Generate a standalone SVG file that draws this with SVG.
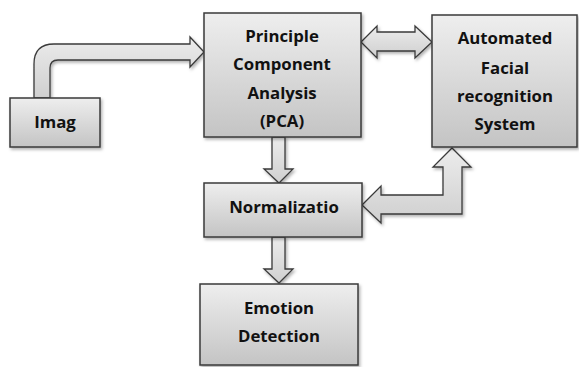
<svg xmlns="http://www.w3.org/2000/svg" width="579" height="367" viewBox="0 0 579 367">
<style>
.box{fill:url(#g);stroke:#3a3a3a;stroke-width:1.5;filter:url(#sh)}
.arr{fill:url(#ga);stroke:#3a3a3a;stroke-width:1.3;stroke-linejoin:miter;filter:url(#sh)}
text{font-family:"Open Sans","Liberation Sans",sans-serif;font-weight:bold;font-size:16.8px;fill:#111;text-anchor:middle}
</style>
<defs>
<linearGradient id="g" x1="0" y1="0" x2="0" y2="1"><stop offset="0" stop-color="#eeeeee"/><stop offset="1" stop-color="#c4c4c4"/></linearGradient>
<linearGradient id="ga" x1="0" y1="0" x2="0" y2="1"><stop offset="0" stop-color="#ececec"/><stop offset="1" stop-color="#cfcfcf"/></linearGradient>
<filter id="sh" x="-10%" y="-10%" width="130%" height="130%"><feDropShadow dx="1.5" dy="2" stdDeviation="1.5" flood-color="#000" flood-opacity="0.3"/></filter>
</defs>
<g id="connectors">
<path class="arr" d="M34,98 L34,64 Q34,44 54,44 L190,44 L190,37 L204,52 L190,67 L190,60 L58,60 Q50,60 50,68 L50,98 Z"/>
<path class="arr" d="M361,42 L377,26 L377,32 L415,32 L415,26 L432,42 L415,58 L415,51 L377,51 L377,58 Z"/>
<path class="arr" d="M272,137 L285,137 L285,169 L293,169 L279,183 L264,169 L272,169 Z"/>
<path class="arr" d="M272,237 L285,237 L285,269 L293,269 L279,283 L264,269 L272,269 Z"/>
<path class="arr" d="M362,205 L381,186 L381,195 L443,195 L443,167 L433,167 L452,148 L471,167 L462,167 L462,214 L381,214 L381,223 Z"/>
</g>
<g id="imag">
<rect class="box" x="10" y="98" width="90" height="49"/>
<text x="55" y="128">Imag</text>
</g>
<g id="pca">
<rect class="box" x="204" y="13" width="157" height="124"/>
<text x="282" y="42">Principle</text>
<text x="282" y="70">Component</text>
<text x="282" y="99">Analysis</text>
<text x="282" y="127">(PCA)</text>
</g>
<g id="afrs">
<rect class="box" x="432" y="15" width="145" height="132"/>
<text x="505" y="44">Automated</text>
<text x="505" y="74">Facial</text>
<text x="505" y="102">recognition</text>
<text x="505" y="130">System</text>
</g>
<g id="normalization">
<rect class="box" x="204" y="183" width="158" height="54"/>
<text x="284" y="213">Normalizatio</text>
</g>
<g id="emotion">
<rect class="box" x="200" y="284" width="158" height="81"/>
<text x="279" y="314">Emotion</text>
<text x="279" y="342">Detection</text>
</g>
</svg>
